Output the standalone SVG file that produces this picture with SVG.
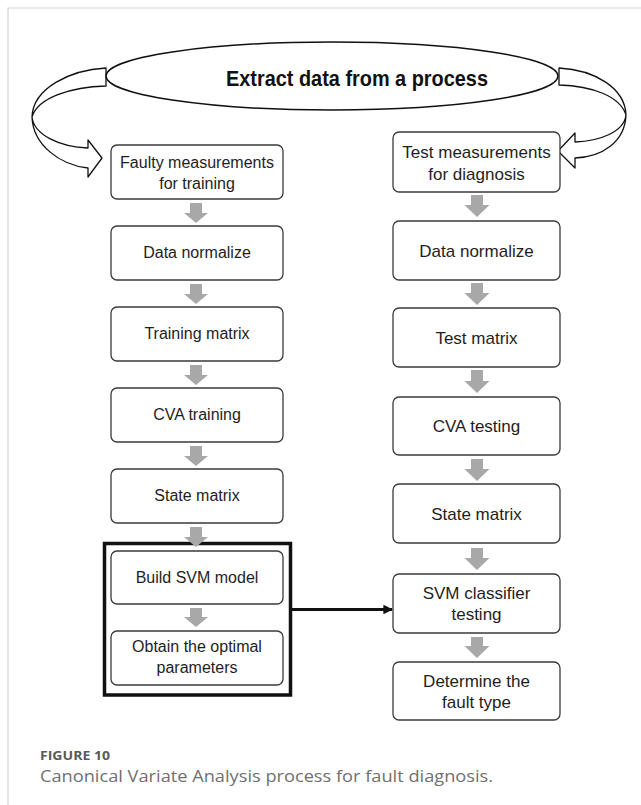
<svg xmlns="http://www.w3.org/2000/svg" width="641" height="805" viewBox="0 0 641 805">
  <style>
    .frame { stroke: #d4d4d4; stroke-width: 1.2; fill: none; }
    .box { fill: #ffffff; stroke: #3a3a3a; stroke-width: 1.3; }
    .lbl { font-family: "Liberation Sans", Arial, sans-serif; font-size: 16px; fill: #1e1e1e; text-anchor: middle; }
    .lbl.r { font-size: 17px; }
    .title { font-family: "Liberation Sans", Arial, sans-serif; font-size: 21.5px; font-weight: bold; fill: #111; text-anchor: middle; }
    .step { fill: #a8a8a8; stroke: none; }
    .curve { fill: #ffffff; stroke: #111; stroke-width: 1.3; stroke-linejoin: round; }
    .group { fill: none; stroke: #111; stroke-width: 3.5; }
    .link { fill: none; stroke: #111; stroke-width: 3; }
    .cap-h { font-family: "Open Sans", "Liberation Sans", sans-serif; font-size: 12.5px; font-weight: bold; fill: #595959; }
    .cap { font-family: "Open Sans", "Liberation Sans", sans-serif; font-size: 15.5px; fill: #6f6f6f; }
  </style>
  <defs>
    <marker id="head" viewBox="0 0 10 10" refX="9" refY="5" markerWidth="3.2" markerHeight="3.2" orient="auto" markerUnits="strokeWidth">
      <path d="M0,0 L10,5 L0,10 z" fill="#111"/>
    </marker>
  </defs>

  <rect width="641" height="805" fill="#ffffff"/>
  <!-- page frame -->
  <path class="frame" d="M8,805 V8 H641"/>

  <!-- source process with the two curved block arrows -->
  <g id="extract">
    <g id="curve-left">
      <path class="curve" d="M106,68 C70,70 33,88 32,117 C34,135 60,147 88,148 L88,140 L102,158 L88,177 L88,168 C60,165 33,145 32,117 C38,97 72,87 106,86 Z"/>
    </g>
    <g id="curve-right">
      <path class="curve" d="M559,68 C595,70 625,88 626,115 C624,132 600,141 575,142 L575,133 L558,151 L575,168 L575,158 C602,157 625,142 626,115 C620,96 592,86 559,85 Z"/>
    </g>
    <ellipse cx="332" cy="76" rx="226" ry="34" fill="#ffffff" stroke="#111" stroke-width="1.5"/>
    <text class="title" x="357" y="86" textLength="262" lengthAdjust="spacingAndGlyphs">Extract data from a process</text>
  </g>

  <!-- training branch -->
  <g id="train-measure">
    <rect class="box" x="111" y="145" width="172" height="54" rx="6"/>
    <text class="lbl" x="197" y="168">Faulty measurements</text>
    <text class="lbl" x="197" y="189">for training</text>
  </g>
  <g id="train-normalize">
    <rect class="box" x="111" y="226" width="172" height="54" rx="6"/>
    <text class="lbl" x="197" y="258">Data normalize</text>
  </g>
  <g id="train-matrix">
    <rect class="box" x="111" y="307" width="172" height="54" rx="6"/>
    <text class="lbl" x="197" y="339">Training matrix</text>
  </g>
  <g id="cva-train">
    <rect class="box" x="111" y="388" width="172" height="54" rx="6"/>
    <text class="lbl" x="197" y="420">CVA training</text>
  </g>
  <g id="train-state">
    <rect class="box" x="111" y="469" width="172" height="54" rx="6"/>
    <text class="lbl" x="197" y="501">State matrix</text>
  </g>
  <g id="svm-group">
    <rect class="group" x="104.5" y="543.5" width="186" height="151.5"/>
  </g>
  <g id="svm-build">
    <rect class="box" x="111" y="551" width="172" height="53" rx="6"/>
    <text class="lbl" x="197" y="583">Build SVM model</text>
  </g>
  <g id="svm-params">
    <rect class="box" x="111" y="631" width="172" height="54" rx="6"/>
    <text class="lbl" x="197" y="652">Obtain the optimal</text>
    <text class="lbl" x="197" y="673">parameters</text>
  </g>

  <!-- diagnosis branch -->
  <g id="test-measure">
    <rect class="box" x="393" y="132" width="167" height="60" rx="6"/>
    <text class="lbl r" x="476.5" y="158">Test measurements</text>
    <text class="lbl r" x="476.5" y="180">for diagnosis</text>
  </g>
  <g id="test-normalize">
    <rect class="box" x="393" y="221" width="167" height="59" rx="6"/>
    <text class="lbl r" x="476.5" y="257">Data normalize</text>
  </g>
  <g id="test-matrix">
    <rect class="box" x="393" y="308" width="167" height="59" rx="6"/>
    <text class="lbl r" x="476.5" y="344">Test matrix</text>
  </g>
  <g id="cva-test">
    <rect class="box" x="393" y="397" width="167" height="58" rx="6"/>
    <text class="lbl r" x="476.5" y="432">CVA testing</text>
  </g>
  <g id="test-state">
    <rect class="box" x="393" y="484" width="167" height="59" rx="6"/>
    <text class="lbl r" x="476.5" y="520">State matrix</text>
  </g>
  <g id="svm-test">
    <rect class="box" x="393" y="574" width="167" height="59" rx="6"/>
    <text class="lbl r" x="476.5" y="599">SVM classifier</text>
    <text class="lbl r" x="476.5" y="620">testing</text>
  </g>
  <g id="fault-type">
    <rect class="box" x="393" y="662" width="167" height="58" rx="6"/>
    <text class="lbl r" x="476.5" y="687">Determine the</text>
    <text class="lbl r" x="476.5" y="708">fault type</text>
  </g>

  <!-- connectors -->
  <g id="connectors">
    <path class="step" d="M190,203 h12 v10 h6 l-12,10 l-12,-10 h6 z"/>
    <path class="step" d="M190,284 h12 v10 h6 l-12,10 l-12,-10 h6 z"/>
    <path class="step" d="M190,365 h12 v10 h6 l-12,10 l-12,-10 h6 z"/>
    <path class="step" d="M190,446 h12 v10 h6 l-12,10 l-12,-10 h6 z"/>
    <path class="step" d="M190,527 h12 v10 h6 l-12,10 l-12,-10 h6 z"/>
    <path class="step" d="M190,608 h12 v9 h6 l-12,10 l-12,-10 h6 z"/>

    <path class="step" d="M471,195 h12 v10 h6.5 l-12.5,12 l-12.5,-12 h6.5 z"/>
    <path class="step" d="M471,283 h12 v10 h6.5 l-12.5,12 l-12.5,-12 h6.5 z"/>
    <path class="step" d="M471,370 h12 v11 h6.5 l-12.5,12 l-12.5,-12 h6.5 z"/>
    <path class="step" d="M471,459 h12 v10 h6.5 l-12.5,12 l-12.5,-12 h6.5 z"/>
    <path class="step" d="M471,548 h12 v10 h6.5 l-12.5,12 l-12.5,-12 h6.5 z"/>
    <path class="step" d="M471,637 h12 v9 h6.5 l-12.5,12 l-12.5,-12 h6.5 z"/>

    <line class="link" x1="292" y1="609.5" x2="392" y2="609.5" marker-end="url(#head)"/>
  </g>

  <!-- caption -->
  <text class="cap-h" x="40" y="760" textLength="70" lengthAdjust="spacingAndGlyphs">FIGURE 10</text>
  <text class="cap" x="40" y="782" textLength="453" lengthAdjust="spacingAndGlyphs">Canonical Variate Analysis process for fault diagnosis.</text>
</svg>
